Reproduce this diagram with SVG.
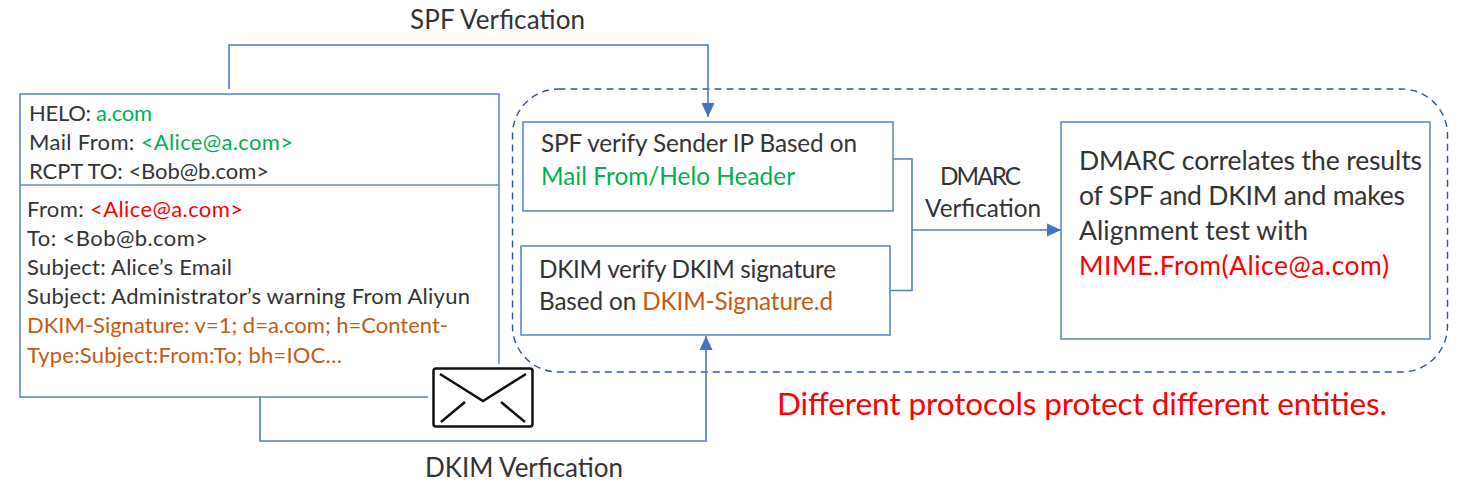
<svg xmlns="http://www.w3.org/2000/svg" width="1462" height="486" viewBox="0 0 1462 486">
<defs>
<marker id="arrow" markerUnits="userSpaceOnUse" markerWidth="15" markerHeight="14" refX="14" refY="7" orient="auto"><path d="M0,0.500 L14,7 L0,13.500 Z" fill="#4472c4"/></marker>
</defs>
<style>
text{font-family:"Lato","Liberation Sans",sans-serif;fill:#333;white-space:pre}
.b{fill:#fff;stroke:#5f88cc;stroke-width:1.6}
.c{fill:none;stroke:#4f7cc8;stroke-width:1.6}
.s{font-size:22px}.m{font-size:24.3px}.t{font-size:26px}.l{font-size:26.5px}
text .g,.g{fill:#00b050}text .r,.r{fill:#ff0000}text .o,.o{fill:#c55a11}
</style>
<rect width="1462" height="486" fill="#fff"/>
<g id="dmarc-boundary"><rect x="512.500" y="89" width="935" height="283" rx="46" fill="none" stroke="#2f5597" stroke-width="1.400" stroke-dasharray="7 5"/></g>
<g id="message">
<rect class="b" x="20" y="94" width="479" height="303"/>
<line class="b" x1="20" y1="185" x2="499" y2="185"/>
<text class="s" x="29" y="121" textLength="123">HELO: <tspan class="g">a.com</tspan></text>
<text class="s" x="29" y="150" textLength="264">Mail From: <tspan class="g">&lt;Alice@a.com&gt;</tspan></text>
<text class="s" x="29" y="179" textLength="240">RCPT TO: &lt;Bob@b.com&gt;</text>
<text class="s" x="27" y="217" textLength="216">From: <tspan class="r">&lt;Alice@a.com&gt;</tspan></text>
<text class="s" x="27" y="246" textLength="181">To: &lt;Bob@b.com&gt;</text>
<text class="s" x="27" y="275" textLength="205">Subject: Alice’s Email</text>
<text class="s" x="27" y="304" textLength="443">Subject: Administrator’s warning From Aliyun</text>
<text class="s o" x="27" y="333" textLength="421">DKIM-Signature: v=1; d=a.com; h=Content-</text>
<text class="s o" x="27" y="363" textLength="315">Type:Subject:From:To; bh=IOC…</text>
</g>
<g id="connectors">
<path class="c" d="M229,89 V45 H708 V117" marker-end="url(#arrow)"/>
<path class="c" d="M260,397 V441 H706 V336" marker-end="url(#arrow)"/>
<path class="c" d="M893,159 H912 V290.500 H890"/>
<path class="c" d="M912,230 H1061" marker-end="url(#arrow)"/>
</g>
<g id="envelope">
<rect x="428" y="364" width="80" height="68" fill="#fff"/>
<rect x="433.500" y="368.500" width="99" height="58" rx="2.500" fill="#fff" stroke="#111" stroke-width="2.500"/>
<path d="M440,374 L483,401 L526,374 M441,422 L465,402 M525,422 L501,402" fill="none" stroke="#111" stroke-width="2.500"/>
</g>
<g id="spf-verify">
<rect class="b" x="523" y="122" width="370" height="89"/>
<text class="m" x="541" y="152" textLength="316">SPF verify Sender IP Based on</text>
<text class="m g" x="541" y="185" textLength="254">Mail From/Helo Header</text>
</g>
<g id="dkim-verify">
<rect class="b" x="521" y="246" width="369" height="89"/>
<text class="m" x="539" y="278" textLength="297">DKIM verify DKIM signature</text>
<text class="m" x="539" y="310" textLength="294">Based on <tspan class="o">DKIM-Signature.d</tspan></text>
</g>
<g id="dmarc-result">
<rect class="b" x="1061" y="122" width="369" height="217"/>
<text class="l" x="1079" y="170" textLength="343">DMARC correlates the results</text>
<text class="l" x="1079" y="205" textLength="326">of SPF and DKIM and makes</text>
<text class="l" x="1079" y="240" textLength="229">Alignment test with</text>
<text class="l r" x="1079" y="275" textLength="310">MIME.From(Alice@a.com)</text>
</g>
<g id="labels">
<text class="t" x="410" y="29" textLength="175">SPF Verfication</text>
<text class="t" x="425" y="477" textLength="198">DKIM Verfication</text>
<text class="m" x="940" y="185" textLength="81">DMARC</text>
<text class="m" x="925" y="217" textLength="116">Verfication</text>
<text class="r" x="777" y="415" textLength="610" style="font-size:31.500px">Different protocols protect different entities.</text>
</g>
</svg>
